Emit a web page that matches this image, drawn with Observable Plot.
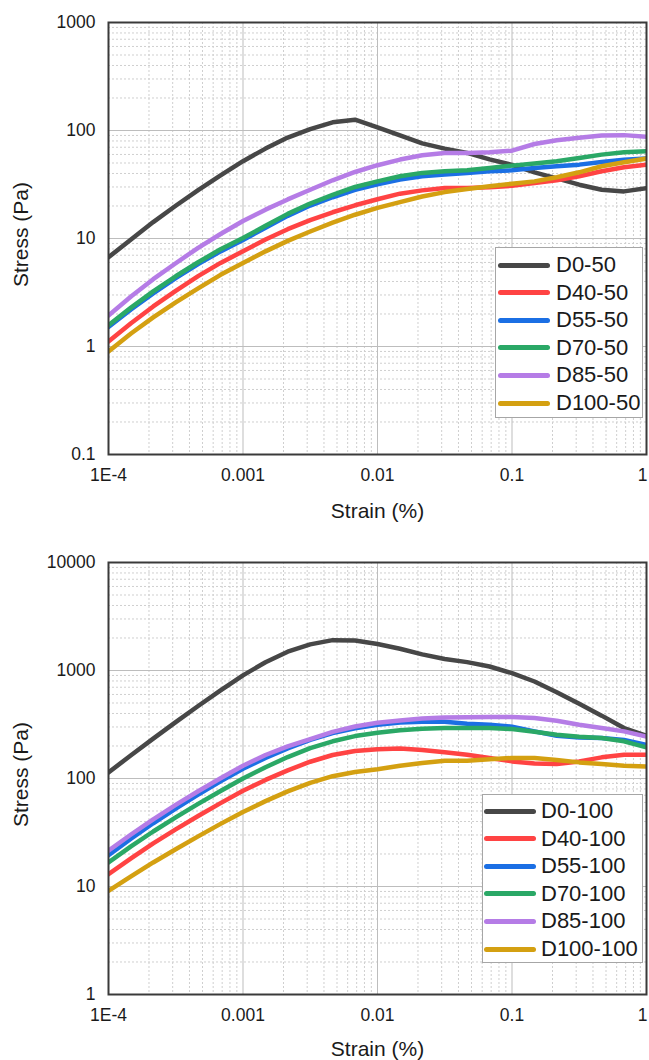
<!DOCTYPE html>
<html>
<head>
<meta charset="utf-8">
<script src="https://cdn.jsdelivr.net/npm/d3@7"></script>
<script src="https://cdn.jsdelivr.net/npm/@observablehq/plot@0.6"></script>
<style>
  body { margin: 0; background: #fff; font-family: Arial, "Liberation Sans", sans-serif; }
  .chart { position: relative; width: 649px; height: 530px; overflow: hidden; }
  .legend { position: absolute; background: #fff; border: 1px solid #a6a6a6; box-sizing: border-box; }
  .swatch { position: absolute; height: 5px; border-radius: 2.5px; }
  .lbl { position: absolute; font-size: 22px; color: #1a1a1a; line-height: 26px; white-space: nowrap; }
</style>
</head>
<body>
<div id="c1" class="chart"></div>
<div id="c2" class="chart"></div>
<script>
// Strain (%) sample points
const strain = [0.0001, 0.000147, 0.000215, 0.000316, 0.000464, 0.000681,
  0.001, 0.00147, 0.00215, 0.00316, 0.00464, 0.00681,
  0.01, 0.0147, 0.0215, 0.0316, 0.0464, 0.0681,
  0.1, 0.147, 0.215, 0.316, 0.464, 0.681, 1];

// Top chart (…-50) stress values (Pa)
const names50 = ["D0-50", "D40-50", "D55-50", "D70-50", "D85-50", "D100-50"];
const d0_50   = [6.7, 9.8, 14.2, 20.1, 28.1, 38.5, 52, 68, 86, 103, 119, 126, 107, 90, 76, 68, 62, 54, 48, 41, 36, 31.5, 28.3, 27.3, 29.3];
const d40_50  = [1.11, 1.64, 2.35, 3.28, 4.48, 5.94, 7.62, 9.8, 12.2, 14.8, 17.5, 20.3, 23.1, 26, 27.9, 29.3, 29.3, 29.8, 30.8, 32.7, 34.6, 37.7, 41.9, 45.6, 48.3];
const d55_50  = [1.52, 2.2, 3.1, 4.3, 5.8, 7.6, 9.7, 12.6, 16.2, 20.2, 24.1, 28.2, 31.8, 35.2, 37.7, 39.2, 40.5, 41.9, 42.8, 45, 46.6, 48.3, 51.2, 53.5, 55];
const d70_50  = [1.57, 2.29, 3.24, 4.47, 6.03, 7.94, 10.1, 13.1, 16.9, 21.1, 25.4, 30, 33.8, 37.7, 40.5, 41.9, 42.8, 45, 47.3, 49.4, 51.9, 55.7, 59.8, 63, 64.3];
const d85_50  = [1.94, 2.9, 4.2, 5.9, 8.2, 11, 14.5, 18.5, 23, 28.3, 34.6, 41.3, 47.7, 53.8, 59, 62, 62, 62.8, 65, 75, 81.3, 85.5, 90, 90.6, 87.3];
const d100_50 = [0.9, 1.32, 1.86, 2.56, 3.46, 4.61, 5.94, 7.6, 9.5, 11.6, 14, 16.6, 19.2, 21.7, 24.5, 26.9, 28.7, 30.4, 32.2, 33.8, 36.9, 41, 46.7, 50.8, 55];

// Bottom chart (…-100) stress values (Pa)
const names100 = ["D0-100", "D40-100", "D55-100", "D70-100", "D85-100", "D100-100"];
const d0_100   = [114, 164, 234, 333, 469, 655, 902, 1194, 1493, 1746, 1910, 1892, 1760, 1590, 1410, 1280, 1195, 1089, 944, 791, 630, 491, 382, 293, 249];
const d40_100  = [13, 18.2, 25.1, 33.8, 45, 59.2, 77, 97, 119, 143, 165, 180, 187, 190, 184, 175, 166, 155, 144, 138, 136, 144, 157, 166, 166];
const d55_100  = [19.5, 27.7, 38.5, 52.6, 70.8, 94, 123, 155, 190, 228, 263, 292, 315, 330, 336, 335, 322, 315, 302, 273, 249, 240, 237, 227, 205];
const d70_100  = [16.7, 23.5, 32.3, 43.6, 58.2, 76.7, 100, 127, 158, 191, 221, 247, 265, 280, 289, 293, 293, 293, 287, 271, 254, 244, 237, 221, 194];
const d85_100  = [21.5, 30.3, 41.9, 56.9, 76.2, 100.5, 131, 165, 198, 232, 270, 303, 328, 345, 360, 367, 369, 372, 372, 363, 343, 315, 293, 273, 244];
const d100_100 = [9.1, 12.4, 16.7, 22.1, 29.1, 38, 49, 61.7, 75.9, 91.2, 105, 115, 122, 131, 139, 146, 146, 151, 155, 155, 148, 141, 136, 131, 129];

// Axis ticks
const xTicks = [0.0001, 0.001, 0.01, 0.1, 1];
const xTickLabels = ["1E-4", "0.001", "0.01", "0.1", "1"];
const yTicks50 = [0.1, 1, 10, 100, 1000];
const yTicks100 = [1, 10, 100, 1000, 10000];

const colors = ["#474747", "#ff4343", "#1b6fe4", "#2aa866", "#b57ce6", "#d4a011"];
const FONT = "Arial, 'Liberation Sans', sans-serif";

function isDecade(v) { const l = Math.log10(v); return Math.abs(l - Math.round(l)) < 1e-6; }

function makeChart(el, names, series, yTicks, m, legend) {
  const data = names.flatMap((n, j) => strain.map((x, i) => ({strain: x, stress: series[j][i], series: n})));
  const xDomain = [xTicks[0], xTicks[xTicks.length - 1]];
  const yDomain = [yTicks[0], yTicks[yTicks.length - 1]];
  const xMinor = d3.scaleLog().domain(xDomain).ticks().filter(v => !isDecade(v));
  const yMinor = d3.scaleLog().domain(yDomain).ticks().filter(v => !isDecade(v));
  const xFmt = d => xTickLabels[xTicks.indexOf(d)];
  const plot = Plot.plot({
    width: 649, height: 530,
    marginLeft: m.left, marginRight: m.right, marginTop: m.top, marginBottom: m.bottom,
    style: {fontFamily: FONT, fontSize: "17.5px", color: "#1a1a1a", background: "#fff", overflow: "visible"},
    x: {type: "log", domain: xDomain},
    y: {type: "log", domain: yDomain},
    color: {domain: names, range: colors},
    marks: [
      Plot.gridX(xMinor, {stroke: "#cfcfcf", strokeOpacity: 1, strokeWidth: 1, strokeDasharray: "2,2"}),
      Plot.gridY(yMinor, {stroke: "#cfcfcf", strokeOpacity: 1, strokeWidth: 1, strokeDasharray: "2,2"}),
      Plot.gridX(xTicks, {stroke: "#bdbdbd", strokeOpacity: 1, strokeWidth: 1}),
      Plot.gridY(yTicks, {stroke: "#bdbdbd", strokeOpacity: 1, strokeWidth: 1}),
      Plot.axisX(xTicks.slice(0, -1), {tickSize: 0, tickPadding: 14, tickFormat: xFmt, label: null, fontSize: 17.5}),
      Plot.axisX(xTicks.slice(-1), {tickSize: 0, tickPadding: 14, tickFormat: xFmt, label: null, fontSize: 17.5, dx: -4}),
      Plot.axisY(yTicks, {tickSize: 0, tickPadding: 13, tickFormat: d => String(d), label: null, fontSize: 17.5}),
      Plot.line(data, {x: "strain", y: "stress", z: "series", stroke: "series", strokeWidth: 4.5, clip: true}),
      Plot.frame({stroke: "#3a3a3a", strokeWidth: 2}),
      Plot.text(["Strain (%)"], {text: d => d, frameAnchor: "bottom", dy: m.xLabel, lineAnchor: "middle", textAnchor: "middle", fontSize: 21, fill: "#1a1a1a"}),
      Plot.text(["Stress (Pa)"], {text: d => d, frameAnchor: "left", dx: -87, dy: -4, rotate: -90, lineAnchor: "middle", textAnchor: "middle", fontSize: 21, fill: "#1a1a1a"})
    ]
  });
  el.appendChild(plot);

  const box = document.createElement("div");
  box.className = "legend";
  Object.assign(box.style, {left: legend.left + "px", top: legend.top + "px", width: legend.width + "px", height: legend.height + "px"});
  names.forEach((n, i) => {
    const cy = legend.firstRow + i * legend.step;
    const sw = document.createElement("div");
    sw.className = "swatch";
    Object.assign(sw.style, {left: legend.swX + "px", width: legend.swW + "px", top: (cy - 2.5) + "px", background: colors[i]});
    const t = document.createElement("div");
    t.className = "lbl";
    t.textContent = n;
    Object.assign(t.style, {left: legend.textX + "px", top: (cy - 13) + "px"});
    box.appendChild(sw);
    box.appendChild(t);
  });
  el.appendChild(box);
}

makeChart(document.getElementById("c1"), names50,
  [d0_50, d40_50, d55_50, d70_50, d85_50, d100_50], yTicks50,
  {left: 108, right: 3, top: 22, bottom: 76, xLabel: 57},
  {left: 495, top: 247, width: 148, height: 171, firstRow: 17, step: 27.6, swX: 2, swW: 52, textX: 60});

makeChart(document.getElementById("c2"), names100,
  [d0_100, d40_100, d55_100, d70_100, d85_100, d100_100], yTicks100,
  {left: 108, right: 3, top: 32, bottom: 66, xLabel: 55},
  {left: 482, top: 264, width: 161, height: 169, firstRow: 16, step: 27.6, swX: 1, swW: 52, textX: 58});
</script>
</body>
</html>
